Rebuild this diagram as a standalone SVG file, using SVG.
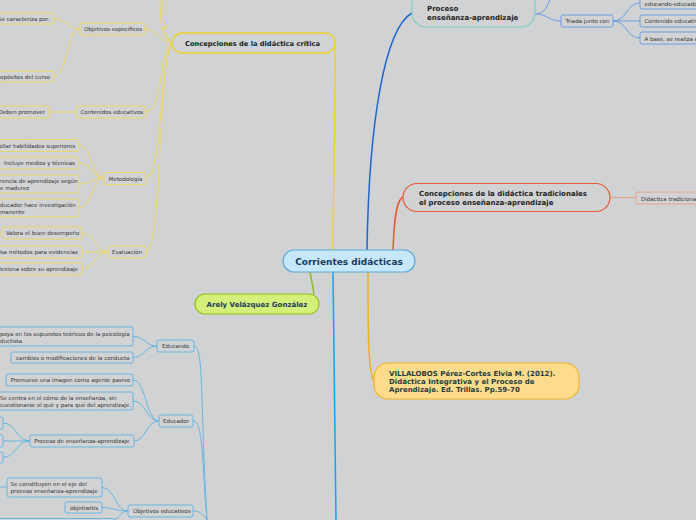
<svg xmlns="http://www.w3.org/2000/svg" width="696" height="520" viewBox="0 0 696 520">
<style>
text{font-family:"DejaVu Sans","Verdana",sans-serif}
.s{font-size:5.5px;fill:#333}
.t{font-size:7px;font-weight:bold;fill:#222}
.yb{fill:#d2d3d5;stroke:#ebd866;stroke-width:1}
.bb{fill:#d2d3d5;stroke:#68b6e0;stroke-width:1}
.pb{fill:#d2d3d5;stroke:#6c9ee0;stroke-width:1}
.yl{fill:none;stroke:#ebd866;stroke-width:1}
.bl{fill:none;stroke:#68b6e0;stroke-width:1}
.pl{fill:none;stroke:#6c9ee0;stroke-width:1}
</style>
<rect width="696" height="520" fill="#d1d2d4"/>
<g id="connectors">
<path d="M333,250 C334,150 336,60 335,46" fill="none" stroke="#ecd426" stroke-width="1.5"/>
<path d="M367,250 C369,120 385,28 412,13" fill="none" stroke="#1f66cc" stroke-width="1.5"/>
<path d="M393,250 C394,222 396,200 403,197" fill="none" stroke="#e85a30" stroke-width="1.5"/>
<path d="M368,272 C368,330 368,372 374,381" fill="none" stroke="#f0b01e" stroke-width="1.5"/>
<path d="M310,272 C312,282 313,288 314,294" fill="none" stroke="#8cbf1a" stroke-width="1.5"/>
<path d="M333,272 L336,520" fill="none" stroke="#12a4ec" stroke-width="1.5"/>
<path class="yl" d="M172,43 C162,40 160,20 160,0"/>
<path class="yl" d="M172,43 C164,38 163,20 163,0"/>
<path class="yl" d="M172,43 C160,43 158,29 145,29"/>
<path class="yl" d="M172,43 C160,50 162,112 146,112"/>
<path class="yl" d="M172,43 C160,55 162,178 146,178"/>
<path class="yl" d="M172,43 C158,60 162,252 146,252"/>
<path class="yl" d="M80,29 C68,29 66,18.5 54,18.5"/>
<path class="yl" d="M80,29 C66,29 68,76.5 54,76.5"/>
<path class="yl" d="M76,112 L49,112"/>
<path class="yl" d="M104,178 C92,178 92,145.5 79,145.5"/>
<path class="yl" d="M104,178 C92,178 92,163 79,163"/>
<path class="yl" d="M104,178 C92,178 92,184 79,184"/>
<path class="yl" d="M104,178 C92,178 92,208 79,208"/>
<path class="yl" d="M108,252 C95,252 95,233 82,233"/>
<path class="yl" d="M108,252 L82,252"/>
<path class="yl" d="M108,252 C95,252 95,269 82,269"/>
<path class="pl" d="M535,14 C548,14 548,21 561,21"/>
<path class="pl" d="M535,14 C545,14 547,6 550,0"/>
<path class="pl" d="M613,21 C627,21 626,3 640,3"/>
<path class="pl" d="M613,21 L640,21"/>
<path class="pl" d="M613,21 C627,21 626,38 640,38"/>
<path d="M610,197.5 L636,197.5" fill="none" stroke="#e8a48a" stroke-width="1"/>
<path class="bl" d="M157,346 C145,346 145,336.5 133,336.5"/>
<path class="bl" d="M157,346 C145,346 145,357.5 133,357.5"/>
<path class="bl" d="M159,421 C146,421 146,380 133,380"/>
<path class="bl" d="M159,421 C146,421 146,401 133,401"/>
<path class="bl" d="M159,421 C146,421 146,441 134,441"/>
<path class="bl" d="M30,441 C16,441 16,423 3,423"/>
<path class="bl" d="M30,441 L3,441"/>
<path class="bl" d="M30,441 C16,441 16,457.5 3,457.5"/>
<path class="bl" d="M128,511 C115,511 115,487.5 102,487.5"/>
<path class="bl" d="M128,511 C115,511 115,507.5 102,507.5"/>
<path class="bl" d="M128,511 C120,511 120,519 115,519"/>
<path class="bl" d="M7,487 L0,487"/>
<path class="bl" d="M194,346 C204,346 200,400 207,520"/>
<path class="bl" d="M193,421 C204,421 202,470 207,520"/>
<path class="bl" d="M193,511 C200,511 204,515 207,520"/>
</g>
<g id="center">
<rect x="283" y="250" width="132" height="22" rx="11" fill="#c6e8fa" stroke="#5aa8d8" stroke-width="1.2"/>
<text x="349" y="264.5" text-anchor="middle" font-size="9" font-weight="bold" fill="#1b3a5a">Corrientes didácticas</text>
</g>
<g id="critica">
<rect x="172" y="33" width="163" height="20" rx="10" fill="#d1d2d4" stroke="#ecd426" stroke-width="1.3"/>
<text class="t" x="185" y="45.5" style="font-size:6.7px">Concepciones de la didáctica crítica</text>
</g>
<g id="proceso">
<rect x="412" y="-14" width="123" height="41" rx="14" fill="#d1d2d4" stroke="#7fcfc4" stroke-width="1.2"/>
<text class="t" x="427" y="10.5">Proceso</text>
<text class="t" x="427" y="20">enseñanza-aprendizaje</text>
</g>
<g id="triada"><rect class="pb" x="561" y="15" width="52" height="12" rx="2"/><text class="s" x="565.5" y="23">Triada junto con</text></g>
<g id="p1"><rect class="pb" x="640" y="-4" width="70" height="13" rx="2"/><text class="s" x="644.5" y="6">educando-educado</text></g>
<g id="p2"><rect class="pb" x="640" y="15" width="70" height="12" rx="2"/><text class="s" x="644.5" y="23">Contenido educativ</text></g>
<g id="p3"><rect class="pb" x="640" y="32" width="70" height="12" rx="2"/><text class="s" x="644.5" y="40.5">A base, se realiza e</text></g>
<g id="tradicionales">
<rect x="403" y="183.5" width="207" height="28" rx="14" fill="#d1d2d4" stroke="#e85a30" stroke-width="1.2"/>
<text class="t" x="419" y="196">Concepciones  de la didáctica tradicionales</text>
<text class="t" x="419" y="205">el proceso enseñanza-aprendizaje</text>
</g>
<g id="didactica-tradicional"><rect x="636" y="192" width="70" height="12" rx="2" fill="#d2d3d5" stroke="#e8a48a" stroke-width="1"/><text class="s" x="641" y="200.5">Didáctica tradicional</text></g>
<g id="villalobos">
<rect x="374" y="363" width="205" height="36" rx="14" fill="#fedc8c" stroke="#f0b428" stroke-width="1.2"/>
<text class="t" x="389" y="376" style="fill:#1e3c3c">VILLALOBOS Pérez-Cortes Elvia M. (2012).</text>
<text class="t" x="389" y="384" style="fill:#1e3c3c">Didáctica Integrativa y el Proceso de</text>
<text class="t" x="389" y="392" style="fill:#1e3c3c">Aprendizaje. Ed. Trillas. Pp.59-70</text>
</g>
<g id="arely">
<rect x="195" y="294" width="124" height="20" rx="10" fill="#d4f07a" stroke="#8cbf1a" stroke-width="1.2"/>
<text x="257" y="306.5" text-anchor="middle" font-size="7" font-weight="bold" fill="#1b3a5a">Arely Velázquez González</text>
</g>
<g id="objetivos-especificos"><rect class="yb" x="80" y="23" width="65" height="12" rx="2"/><text class="s" x="84" y="31">Objetivos específicos</text></g>
<g id="se-caracteriza"><rect class="yb" x="-20" y="13" width="74" height="11" rx="2"/><text class="s" x="50" y="20.5" text-anchor="end">Se caracteriza por:</text></g>
<g id="propositos"><rect class="yb" x="-20" y="71" width="74" height="11" rx="2"/><text class="s" x="50" y="78.5" text-anchor="end">opósitos del curso</text></g>
<g id="contenidos"><rect class="yb" x="76" y="106" width="70" height="12" rx="2"/><text class="s" x="80.5" y="114">Contenidos educativos</text></g>
<g id="deben"><rect class="yb" x="-10" y="106" width="59" height="12" rx="2"/><text class="s" x="45" y="114" text-anchor="end">Deben promover</text></g>
<g id="metodologia"><rect class="yb" x="104" y="172.5" width="42" height="12" rx="2"/><text class="s" x="108.5" y="180.5">Metodología</text></g>
<g id="m1"><rect class="yb" x="-10" y="139.5" width="89" height="12" rx="2"/><text class="s" x="75" y="147.5" text-anchor="end">ollar habilidades superiores</text></g>
<g id="m2"><rect class="yb" x="-10" y="157" width="89" height="12" rx="2"/><text class="s" x="75" y="165" text-anchor="end">Incluye medios y técnicas</text></g>
<g id="m3"><rect class="yb" x="-10" y="175" width="89" height="18" rx="2"/><text class="s" x="0" y="182.5">rencia de aprendizaje según</text><text class="s" x="0" y="189.5">e madurez</text></g>
<g id="m4"><rect class="yb" x="-10" y="199" width="89" height="18" rx="2"/><text class="s" x="0" y="206.5">ducador hace investigación</text><text class="s" x="0" y="213.5">manente</text></g>
<g id="evaluacion"><rect class="yb" x="108" y="246" width="38" height="12" rx="2"/><text class="s" x="112" y="254">Evaluación</text></g>
<g id="e1"><rect class="yb" x="2" y="227" width="80" height="12" rx="2"/><text class="s" x="6" y="235">Valora el buen desempeño</text></g>
<g id="e2"><rect class="yb" x="-10" y="246" width="92" height="12" rx="2"/><text class="s" x="78" y="254" text-anchor="end">Usa métodos para evidencias</text></g>
<g id="e3"><rect class="yb" x="-10" y="263" width="92" height="12" rx="2"/><text class="s" x="78" y="271" text-anchor="end">lexiona sobre su aprendizaje</text></g>
<g id="educando"><rect class="bb" x="157" y="340" width="37" height="12" rx="2"/><text class="s" x="162" y="348">Educando</text></g>
<g id="ed1"><rect class="bb" x="-10" y="327" width="143" height="19" rx="2"/><text class="s" x="0" y="336">poya en los supuestos teóricos de la psicología</text><text class="s" x="0" y="342.5">ductista</text></g>
<g id="ed2"><rect class="bb" x="11" y="352" width="122" height="11" rx="2"/><text class="s" x="16" y="360">cambios o modificaciones de la conducta</text></g>
<g id="educador"><rect class="bb" x="159" y="415" width="34" height="12" rx="2"/><text class="s" x="163" y="423">Educador</text></g>
<g id="er1"><rect class="bb" x="6" y="374" width="127" height="12" rx="2"/><text class="s" x="10.5" y="382">Promueve una imagen como agente pasivo</text></g>
<g id="er2"><rect class="bb" x="-10" y="392" width="143" height="18" rx="2"/><text class="s" x="0" y="399.5">Se centra en el cómo de la enseñanza, sin</text><text class="s" x="0" y="406.5">cuestionarse el qué y para qué del aprendizaje.</text></g>
<g id="proceso-ea"><rect class="bb" x="30" y="435" width="104" height="12" rx="2"/><text class="s" x="34" y="443">Proceso de enseñanza-aprendizaje</text></g>
<g id="pe1"><rect class="bb" x="-20" y="417" width="23" height="12" rx="2"/></g>
<g id="pe2"><rect class="bb" x="-20" y="435" width="23" height="12" rx="2"/></g>
<g id="pe3"><rect class="bb" x="-20" y="452" width="23" height="11" rx="2"/></g>
<g id="objetivos-educativos"><rect class="bb" x="128" y="505" width="65" height="12" rx="2"/><text class="s" x="133" y="513">Objetivos educativos</text></g>
<g id="oe1"><rect class="bb" x="7" y="478" width="95" height="19" rx="2"/><text class="s" x="10.5" y="486">Se constituyen en el eje del</text><text class="s" x="10.5" y="493">proceso enseñanza-aprendizaje</text></g>
<g id="oe2"><rect class="bb" x="65" y="502" width="37" height="11" rx="2"/><text class="s" x="70" y="510">objetiwitis</text></g>
<g id="oe3"><rect class="bb" x="-10" y="518.5" width="125" height="12" rx="2"/></g>
</svg>
